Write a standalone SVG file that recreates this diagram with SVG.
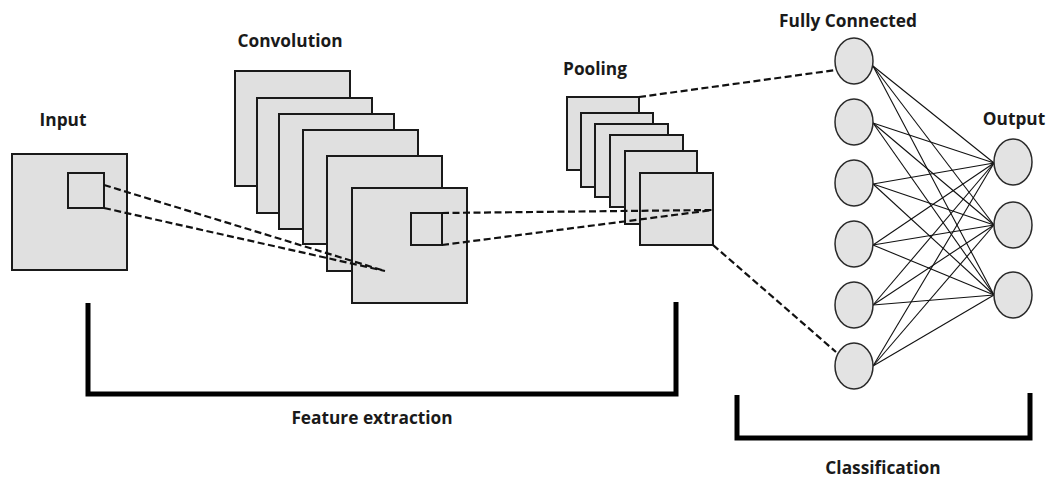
<svg xmlns="http://www.w3.org/2000/svg" width="1046" height="477" viewBox="0 0 1046 477">
<style>
.lbl{font-family:"Open Sans","Noto Sans","Liberation Sans",sans-serif;font-weight:bold;font-size:17.3px;fill:#1a1a1a;text-anchor:middle}
.map{fill:#e0e0e0;stroke:#1a1a1a;stroke-width:2}
.win{fill:none;stroke:#1a1a1a;stroke-width:2}
.neu{fill:#e3e3e3;stroke:#2a2a2a;stroke-width:1.5}
.dash{fill:none;stroke:#111;stroke-width:2.2;stroke-dasharray:7 3.5}
.edge{stroke:#111;stroke-width:1.1}
.brk{fill:none;stroke:#000;stroke-width:5}
</style>
<rect width="1046" height="477" fill="#fff"/>

<g id="input">
<text class="lbl" x="63" y="126">Input</text>
<rect class="map" x="12" y="154" width="115" height="116"/>
<rect class="win" x="68" y="173" width="36" height="35"/>
</g>

<g id="convolution">
<text class="lbl" x="290" y="47">Convolution</text>
<rect class="map" x="235" y="71" width="115" height="115"/>
<rect class="map" x="257" y="98" width="115" height="115"/>
<rect class="map" x="279" y="114" width="115" height="115"/>
<rect class="map" x="303" y="130" width="115" height="114"/>
<rect class="map" x="327" y="156" width="115" height="115"/>
<rect class="map" x="352" y="188" width="115" height="115"/>
<rect class="win" x="411" y="213" width="31" height="32"/>
</g>

<g id="pooling">
<text class="lbl" x="595" y="75">Pooling</text>
<rect class="map" x="567" y="97" width="72" height="73"/>
<rect class="map" x="581" y="113" width="72" height="74"/>
<rect class="map" x="595" y="124" width="73" height="73"/>
<rect class="map" x="610" y="135" width="73" height="72"/>
<rect class="map" x="625" y="151" width="72" height="73"/>
<rect class="map" x="640" y="173" width="73" height="72"/>
</g>

<g id="connectors">
<line class="dash" x1="104" y1="185" x2="385" y2="271"/>
<line class="dash" x1="104" y1="208" x2="385" y2="271"/>
<line class="dash" x1="442" y1="213" x2="713" y2="210"/>
<line class="dash" x1="442" y1="245" x2="713" y2="210"/>
<line class="dash" x1="639" y1="97" x2="836" y2="70"/>
<line class="dash" x1="713" y1="245" x2="836" y2="352"/>
<g id="fc-edges">
<line class="edge" x1="873" y1="66" x2="994" y2="163"/>
<line class="edge" x1="873" y1="66" x2="994" y2="225"/>
<line class="edge" x1="873" y1="66" x2="994" y2="295"/>
<line class="edge" x1="873" y1="123" x2="994" y2="163"/>
<line class="edge" x1="873" y1="123" x2="994" y2="225"/>
<line class="edge" x1="873" y1="123" x2="994" y2="295"/>
<line class="edge" x1="873" y1="184" x2="994" y2="163"/>
<line class="edge" x1="873" y1="184" x2="994" y2="225"/>
<line class="edge" x1="873" y1="184" x2="994" y2="295"/>
<line class="edge" x1="873" y1="245" x2="994" y2="163"/>
<line class="edge" x1="873" y1="245" x2="994" y2="225"/>
<line class="edge" x1="873" y1="245" x2="994" y2="295"/>
<line class="edge" x1="873" y1="305" x2="994" y2="163"/>
<line class="edge" x1="873" y1="305" x2="994" y2="225"/>
<line class="edge" x1="873" y1="305" x2="994" y2="295"/>
<line class="edge" x1="873" y1="366" x2="994" y2="163"/>
<line class="edge" x1="873" y1="366" x2="994" y2="225"/>
<line class="edge" x1="873" y1="366" x2="994" y2="295"/>
</g>
</g>

<g id="fully-connected">
<text class="lbl" x="848" y="27">Fully Connected</text>
<ellipse class="neu" cx="854" cy="61" rx="19" ry="23"/>
<ellipse class="neu" cx="854" cy="122" rx="19" ry="23"/>
<ellipse class="neu" cx="854" cy="183" rx="19" ry="23"/>
<ellipse class="neu" cx="854" cy="244" rx="19" ry="23"/>
<ellipse class="neu" cx="854" cy="305" rx="19" ry="23"/>
<ellipse class="neu" cx="854" cy="366" rx="19" ry="23"/>
</g>

<g id="output">
<text class="lbl" x="1014" y="125">Output</text>
<ellipse class="neu" cx="1013" cy="162" rx="19" ry="23"/>
<ellipse class="neu" cx="1013" cy="225" rx="19" ry="23"/>
<ellipse class="neu" cx="1013" cy="295" rx="19" ry="23"/>
</g>

<g id="feature-extraction">
<path class="brk" d="M88 303 V394 H676 V302"/>
<text class="lbl" x="372" y="424">Feature extraction</text>
</g>

<g id="classification">
<path class="brk" d="M737 395 V438 H1030 V393"/>
<text class="lbl" x="883" y="474">Classification</text>
</g>
</svg>
